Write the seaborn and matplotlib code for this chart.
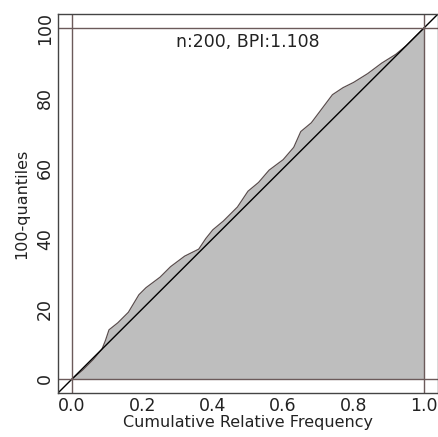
import numpy as np
import pandas as pd
import matplotlib
matplotlib.use("Agg")
import matplotlib.pyplot as plt
import seaborn as sns

cum_freq = [0.0, 0.03, 0.06, 0.085, 0.095, 0.105, 0.13, 0.16, 0.19, 0.21, 0.25, 0.28,
            0.32, 0.36, 0.38, 0.40, 0.43, 0.47, 0.50, 0.53, 0.56, 0.60, 0.63, 0.65,
            0.68, 0.71, 0.74, 0.77, 0.80, 0.84, 0.88, 0.92, 0.95, 0.98, 1.0]
quantiles = [0.0, 2.5, 5.5, 8.5, 11.0, 14.0, 16.0, 19.0, 24.0, 26.0, 29.0, 32.0,
             35.0, 37.0, 40.0, 42.5, 45.0, 49.0, 53.5, 56.0, 59.5, 62.5, 66.0, 70.5,
             73.0, 77.0, 81.0, 83.0, 84.5, 87.0, 90.0, 92.5, 95.0, 98.0, 100.0]
x_ticks = [0.0, 0.2, 0.4, 0.6, 0.8, 1.0]
x_tick_labels = ["0.0", "0.2", "0.4", "0.6", "0.8", "1.0"]
y_ticks = [0, 20, 40, 60, 80, 100]
annotation = "n:200, BPI:1.108"

sns.set_style("white")
plt.rcParams['font.family'] = ['DejaVu Sans']

df = pd.DataFrame({"x": cum_freq, "y": quantiles})

fig = plt.figure(figsize=(4.39, 4.37), dpi=100)
ax = fig.add_axes([58/439, 1-393/437, 380/439, 379/437])

ax.fill_between(df["x"], df["y"], 0, color="#bebebe", linewidth=0)
sns.lineplot(data=df, x="x", y="y", ax=ax, color="#5a4e4e", linewidth=0.9,
             estimator=None, sort=False)
ax.axline((0, 0), (1, 100), color="black", linewidth=1.0)
ref_col = "#6b5a5a"
ax.axhline(0, color=ref_col, linewidth=1.0)
ax.axhline(100, color=ref_col, linewidth=1.0)
ax.axvline(0, color=ref_col, linewidth=1.0)
ax.axvline(1, color=ref_col, linewidth=1.0)

ax.set_xlim(-0.04, 1.04)
ax.set_ylim(-4, 104)
ax.set_xticks(x_ticks)
ax.set_xticklabels(x_tick_labels)
ax.set_yticks(y_ticks)
ax.set_yticklabels([str(v) for v in y_ticks], rotation=90, va="center")
ax.tick_params(direction="in", length=2, width=0.6, color="#888888",
               labelsize=12.5, labelcolor="#222222", pad=3)
ax.set_xlabel("Cumulative Relative Frequency", fontsize=11.5, color="#222222", labelpad=0)
ax.set_ylabel("100-quantiles", fontsize=11.5, color="#222222", labelpad=5)
ax.text(0.5, 96, annotation, ha="center", va="center", fontsize=12.5, color="#222222")

for s in ax.spines.values():
    s.set_color("#444444")
    s.set_linewidth(1.0)

fig.savefig("out.png", dpi=100)
